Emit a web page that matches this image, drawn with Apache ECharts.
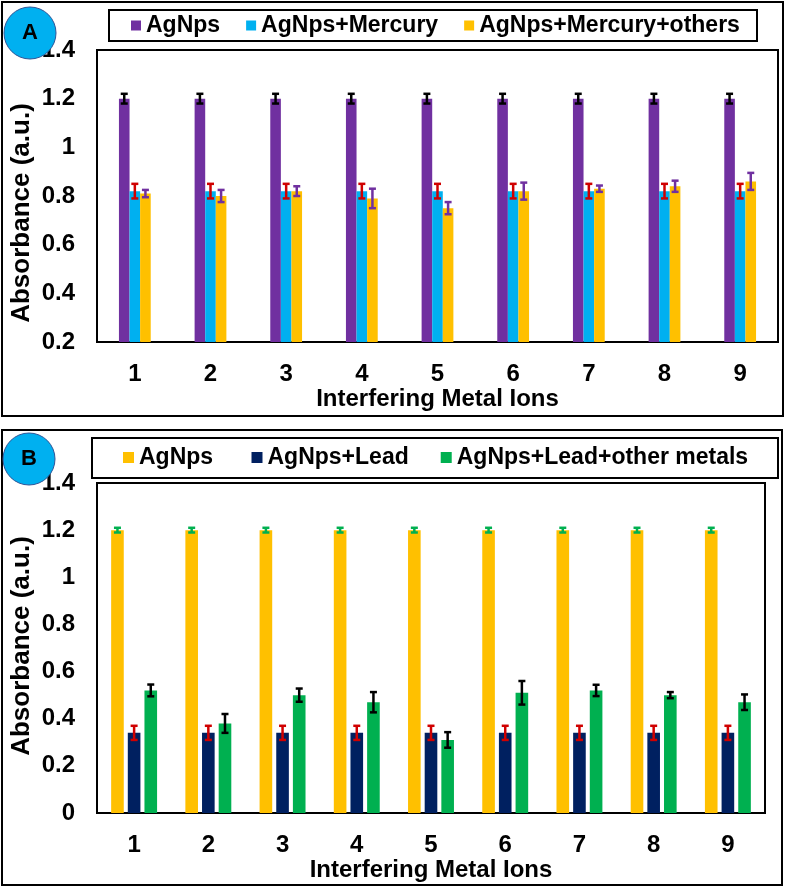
<!DOCTYPE html>
<html>
<head>
<meta charset="utf-8">
<script src="https://cdn.jsdelivr.net/npm/echarts@6/dist/echarts.min.js"></script>
<style>
  html, body { margin: 0; background: #fff; }
  #chart { width: 785px; height: 888px; }
</style>
</head>
<body>
<div id="chart"></div>
<script>
// x categories (interfering metal ions)
const ions = ['1', '2', '3', '4', '5', '6', '7', '8', '9'];

// panel A : mercury
const agNpsA = [1.2, 1.2, 1.2, 1.2, 1.2, 1.2, 1.2, 1.2, 1.2];
const agNpsAErr = [0.02, 0.02, 0.02, 0.02, 0.02, 0.02, 0.02, 0.02, 0.02];
const mercury = [0.82, 0.82, 0.82, 0.82, 0.82, 0.82, 0.82, 0.82, 0.82];
const mercuryErr = [0.03, 0.03, 0.03, 0.03, 0.03, 0.03, 0.03, 0.03, 0.03];
const mercuryOthers = [0.81, 0.80, 0.82, 0.79, 0.75, 0.82, 0.83, 0.84, 0.86];
const mercuryOthersErr = [0.015, 0.025, 0.02, 0.04, 0.025, 0.035, 0.013, 0.023, 0.035];

// panel B : lead
const agNpsB = [1.2, 1.2, 1.2, 1.2, 1.2, 1.2, 1.2, 1.2, 1.2];
const agNpsBErr = [0.01, 0.01, 0.01, 0.01, 0.01, 0.01, 0.01, 0.01, 0.01];
const lead = [0.34, 0.34, 0.34, 0.34, 0.34, 0.34, 0.34, 0.34, 0.34];
const leadErr = [0.03, 0.03, 0.03, 0.03, 0.03, 0.03, 0.03, 0.03, 0.03];
const leadOthers = [0.52, 0.38, 0.50, 0.47, 0.31, 0.51, 0.52, 0.50, 0.47];
const leadOthersErr = [0.025, 0.04, 0.028, 0.043, 0.033, 0.05, 0.024, 0.013, 0.033];

// y axis ranges [min, max, step]
const yRangeA = [0.2, 1.4, 0.2];
const yRangeB = [0, 1.4, 0.2];

const FONT = 'Arial, "Liberation Sans", sans-serif';
const bold = { fontFamily: FONT, fontWeight: 'bold', color: '#000' };

// error bar drawn at the bar's offset inside the category band
function errSeries(id, vals, errs, color, axis, shift) {
  return {
    type: 'custom',
    name: id,
    xAxisIndex: axis,
    yAxisIndex: axis,
    silent: true,
    z: 5,
    data: vals.map((v, i) => [i, v, errs[i]]),
    renderItem: function (params, api) {
      const band = api.size([1, 0])[0];
      const hi = api.coord([api.value(0), api.value(1) + api.value(2)]);
      const lo = api.coord([api.value(0), api.value(1) - api.value(2)]);
      const x = hi[0] + shift * band;
      const c = 3.5;
      const style = { stroke: color, lineWidth: 2.5 };
      return {
        type: 'group',
        children: [
          { type: 'line', shape: { x1: x, y1: hi[1], x2: x, y2: lo[1] }, style: style },
          { type: 'line', shape: { x1: x - c, y1: hi[1], x2: x + c, y2: hi[1] }, style: style },
          { type: 'line', shape: { x1: x - c, y1: lo[1], x2: x + c, y2: lo[1] }, style: style }
        ]
      };
    }
  };
}

function barSeries(name, vals, color, axis, width, gap) {
  return {
    type: 'bar', name: name, xAxisIndex: axis, yAxisIndex: axis,
    data: vals, barWidth: width, barGap: gap,
    itemStyle: { color: color }
  };
}

function xAxisOf(grid, gap) {
  return {
    type: 'category', gridIndex: grid, data: ions,
    axisLine: { lineStyle: { color: '#000', width: 2 } },
    axisTick: { show: false },
    axisLabel: Object.assign({ fontSize: 24, margin: 20 }, bold),
    name: 'Interfering Metal Ions', nameLocation: 'middle', nameGap: gap,
    nameTextStyle: Object.assign({ fontSize: 24 }, bold)
  };
}

function yAxisOf(grid, r) {
  return {
    type: 'value', gridIndex: grid, min: r[0], max: r[1], interval: r[2],
    axisLine: { show: false }, axisTick: { show: false }, splitLine: { show: false },
    axisLabel: Object.assign({ fontSize: 24, margin: 22 }, bold)
  };
}

const legendText = Object.assign({ fontSize: 23 }, bold);

const chart = echarts.init(document.getElementById('chart'));
chart.setOption({
  animation: false,
  backgroundColor: '#fff',
  grid: [
    { left: 97, top: 50, right: 7, bottom: 546, show: true, borderColor: '#000', borderWidth: 2 },
    { left: 97, top: 483, right: 20, bottom: 75, show: true, borderColor: '#000', borderWidth: 2 }
  ],
  xAxis: [xAxisOf(0, 44), xAxisOf(1, 42)],
  yAxis: [yAxisOf(0, yRangeA), yAxisOf(1, yRangeB)],
  legend: [
    {
      left: 131, top: 14, padding: 0, itemGap: 26, itemWidth: 10, itemHeight: 10,
      icon: 'rect', textStyle: legendText,
      data: [
        { name: 'AgNps', itemStyle: { color: '#7030A0' } },
        { name: 'AgNps+Mercury', itemStyle: { color: '#00B0F0' } },
        { name: 'AgNps+Mercury+others', itemStyle: { color: '#FFC000' } }
      ]
    },
    {
      left: 123, top: 446, padding: 0, itemGap: 32, itemWidth: 11, itemHeight: 11,
      icon: 'rect', textStyle: legendText,
      data: [
        { name: 'AgNps ', itemStyle: { color: '#FFC000' } },
        { name: 'AgNps+Lead', itemStyle: { color: '#002060' } },
        { name: 'AgNps+Lead+other metals', itemStyle: { color: '#00B050' } }
      ]
    }
  ],
  graphic: [
    { type: 'rect', shape: { x: 2, y: 2, width: 781, height: 414 }, style: { fill: null, stroke: '#000', lineWidth: 2 }, z: -1 },
    { type: 'rect', shape: { x: 2, y: 430, width: 780, height: 455 }, style: { fill: null, stroke: '#000', lineWidth: 2 }, z: -1 },
    { type: 'rect', shape: { x: 109, y: 10, width: 648, height: 31 }, style: { fill: null, stroke: '#000', lineWidth: 2 }, z: -1 },
    { type: 'rect', shape: { x: 92, y: 438, width: 686, height: 40 }, style: { fill: null, stroke: '#000', lineWidth: 2 }, z: -1 },
    { type: 'text', x: 22, y: 213, rotation: Math.PI / 2,
      style: { text: 'Absorbance (a.u.)', font: 'bold 26px ' + FONT, fill: '#000', textAlign: 'center', textVerticalAlign: 'middle' } },
    { type: 'text', x: 22, y: 646, rotation: Math.PI / 2,
      style: { text: 'Absorbance (a.u.)', font: 'bold 26px ' + FONT, fill: '#000', textAlign: 'center', textVerticalAlign: 'middle' } },
    { type: 'circle', shape: { cx: 30, cy: 33, r: 26 }, style: { fill: '#00B0F0', stroke: '#2F5597', lineWidth: 1 }, z: 100 },
    { type: 'text', x: 30, y: 33, z: 101,
      style: { text: 'A', font: 'bold 22px ' + FONT, fill: '#000', textAlign: 'center', textVerticalAlign: 'middle' } },
    { type: 'circle', shape: { cx: 29, cy: 459, r: 26 }, style: { fill: '#00B0F0', stroke: '#2F5597', lineWidth: 1 }, z: 100 },
    { type: 'text', x: 29, y: 459, z: 101,
      style: { text: 'B', font: 'bold 22px ' + FONT, fill: '#000', textAlign: 'center', textVerticalAlign: 'middle' } }
  ],
  series: [
    barSeries('AgNps', agNpsA, '#7030A0', 0, '14%', '0%'),
    barSeries('AgNps+Mercury', mercury, '#00B0F0', 0, '14%', '0%'),
    barSeries('AgNps+Mercury+others', mercuryOthers, '#FFC000', 0, '14%', '0%'),
    errSeries('errA1', agNpsA, agNpsAErr, '#000', 0, -0.14),
    errSeries('errA2', mercury, mercuryErr, '#D00000', 0, 0),
    errSeries('errA3', mercuryOthers, mercuryOthersErr, '#7030A0', 0, 0.14),

    barSeries('AgNps ', agNpsB, '#FFC000', 1, '17%', '32%'),
    barSeries('AgNps+Lead', lead, '#002060', 1, '17%', '32%'),
    barSeries('AgNps+Lead+other metals', leadOthers, '#00B050', 1, '17%', '32%'),
    errSeries('errB1', agNpsB, agNpsBErr, '#00B050', 1, -0.17 * 1.32),
    errSeries('errB2', lead, leadErr, '#D00000', 1, 0),
    errSeries('errB3', leadOthers, leadOthersErr, '#000', 1, 0.17 * 1.32)
  ]
});
</script>
</body>
</html>
